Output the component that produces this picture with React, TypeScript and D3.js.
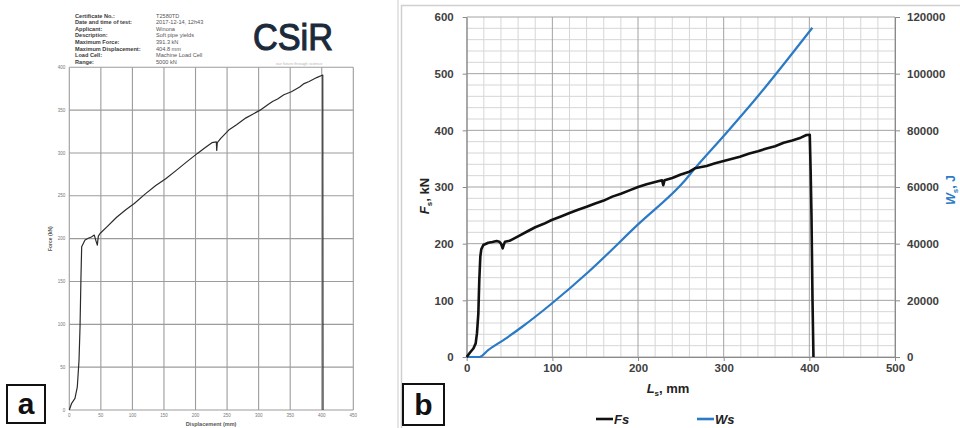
import { useEffect, useRef } from "react";
import * as d3 from "d3";

// panel (a): scanned test certificate, force vs displacement
const certDisp = [0, 3.7, 9, 12.7, 15.4, 17, 18.5, 19.6, 24.9, 30, 35, 39.6, 42, 44.4, 46, 48.7, 60, 75, 90, 103, 120, 137, 152.8, 170, 185, 203, 215, 226, 233, 233.6, 234.5, 240, 252.6, 265, 280, 290, 302.3, 315, 322, 330, 340, 351.9, 365, 372, 380, 392, 401.6, 401.8, 402];
const certForce = [0, 7.8, 13.6, 27, 58, 97, 155.6, 190.6, 198.4, 200.4, 202, 204.2, 198, 192.5, 203, 206, 214, 225, 234, 241, 252, 262, 270, 280, 289, 299.5, 306, 312, 313, 303, 312, 317, 326.7, 333, 341, 345, 350, 356.5, 360, 363, 368, 371.4, 377, 381, 383.5, 388, 391, 200, 0];
const certForceTicks = [0, 50, 100, 150, 200, 250, 300, 350, 400];
const certDispTicks = [0, 50, 100, 150, 200, 250, 300, 350, 400, 450];
const certLabels = ["Certificate No.:", "Date and time of test:", "Applicant:", "Description:", "Maximum Force:", "Maximum Displacement:", "Load Cell:", "Range:"];
const certValues = ["T2580TD", "2017-12-14, 12h43", "Winona", "Soft pipe yields", "391.3 kN", "404.8 mm", "Machine Load Cell", "5000 kN"];

// panel (b): force Fs and work Ws vs stroke Ls
const lsFs = [0, 3.9, 7.8, 10.5, 12, 13.6, 14.7, 15.9, 17, 19.4, 25.2, 30, 35, 38, 40, 42, 43.5, 44.7, 50, 60, 70, 80, 90, 99.2, 110, 120, 130, 140, 150, 160, 170, 180, 190, 200, 210, 220, 228, 229.5, 231, 240, 250, 260, 266.4, 280, 290, 300, 310, 318.9, 330, 340, 350, 360, 370, 380, 390, 396.7, 400.5, 401.5, 402.5, 403.7, 404.8];
const fsValues = [0, 8, 15, 24, 42, 77, 136, 177, 190, 197.6, 201.7, 203, 204.7, 203.5, 200, 191.8, 199, 203.5, 205, 213, 221, 229, 235, 241.7, 248, 254, 260, 265, 271, 276, 283, 288, 294, 300, 305, 309, 312, 303, 312, 316, 322, 327, 333, 337, 342, 346, 350, 353.5, 359, 363, 368, 372, 378, 382, 387, 391.8, 392, 330, 250, 100, 0];
const lsWs = [0, 15, 25, 45, 64, 99, 142, 200, 255, 266, 300, 336, 403.5];
const wsValues = [0, 0, 2400, 6400, 10500, 18800, 30000, 46800, 62400, 66400, 78000, 90600, 116200];
const fsTicks = [0, 100, 200, 300, 400, 500, 600];
const wsTicks = [0, 20000, 40000, 60000, 80000, 100000, 120000];
const lsTicks = [0, 100, 200, 300, 400, 500];

const FONT = "'Liberation Sans', Arial, sans-serif";
const BLUE = "#2a7ac6";

export default function App() {
  const ref = useRef<SVGSVGElement | null>(null);

  useEffect(() => {
    if (!ref.current) return;
    const svg = d3.select(ref.current);
    svg.selectAll("*").remove();
    svg.append("rect").attr("width", 960).attr("height", 428).attr("fill", "#fff");

    // ---------- panel (a) ----------
    const a = svg.append("g").attr("font-family", FONT);
    const xa = d3.scaleLinear().domain([0, 450]).range([69.3, 353.3]);
    const ya = d3.scaleLinear().domain([0, 400]).range([410, 67.3]);

    a.append("line").attr("x1", 398).attr("x2", 398).attr("y1", 0).attr("y2", 428)
      .attr("stroke", "#d4d4d4").attr("stroke-width", 1.2);

    // header block
    certLabels.forEach((t, i) => {
      const y = 17.5 + i * 6.65;
      a.append("text").attr("x", 75).attr("y", y).attr("font-size", 5.6)
        .attr("font-weight", "bold").attr("fill", "#3a3a3a").text(t);
      a.append("text").attr("x", 156).attr("y", y).attr("font-size", 5.6)
        .attr("fill", "#555").text(certValues[i]);
    });

    // logo
    a.append("text").attr("x", 253).attr("y", 50).attr("font-size", 37)
      .attr("textLength", 80).attr("lengthAdjust", "spacingAndGlyphs")
      .attr("fill", "#1b2a3b").attr("stroke", "#1b2a3b").attr("stroke-width", 1.1)
      .text("CSiR");
    a.append("text").attr("x", 276).attr("y", 65).attr("font-size", 4)
      .attr("fill", "#b5b5b5").text("our future through science");

    // grid
    a.selectAll(".gv").data(certDispTicks).join("line")
      .attr("x1", (d) => xa(d)).attr("x2", (d) => xa(d))
      .attr("y1", ya(0)).attr("y2", ya(400))
      .attr("stroke", "#9c9c9c").attr("stroke-width", 1.1);
    a.selectAll(".gh").data(certForceTicks).join("line")
      .attr("x1", xa(0)).attr("x2", xa(450))
      .attr("y1", (d) => ya(d)).attr("y2", (d) => ya(d))
      .attr("stroke", "#9c9c9c").attr("stroke-width", 1.1);

    a.selectAll(".ty").data(certForceTicks).join("text")
      .attr("x", xa(0) - 4).attr("y", (d) => ya(d)).attr("dy", "0.35em")
      .attr("text-anchor", "end").attr("font-size", 4.5).attr("fill", "#777")
      .text((d) => d);
    a.selectAll(".tx").data(certDispTicks).join("text")
      .attr("x", (d) => xa(d)).attr("y", ya(0) + 7)
      .attr("text-anchor", "middle").attr("font-size", 4.5).attr("fill", "#777")
      .text((d) => d);

    a.append("text").attr("transform", `translate(52,${ya(200)}) rotate(-90)`)
      .attr("text-anchor", "middle").attr("font-size", 5).attr("font-weight", "bold")
      .attr("fill", "#555").text("Force (kN)");
    a.append("text").attr("x", 211).attr("y", 425.5)
      .attr("text-anchor", "middle").attr("font-size", 5.5).attr("font-weight", "bold")
      .attr("fill", "#555").text("Displacement (mm)");

    const lineA = d3.line<number>()
      .x((_, i) => xa(certDisp[i]))
      .y((d) => ya(d));
    a.append("path").attr("d", lineA(certForce)).attr("fill", "none")
      .attr("stroke", "#2b2b2b").attr("stroke-width", 1.2).attr("stroke-linejoin", "round");

    // ---------- panel (b) ----------
    const b = svg.append("g").attr("font-family", FONT);
    b.append("rect").attr("x", 401.5).attr("y", 5.5).attr("width", 600).attr("height", 500)
      .attr("fill", "none").attr("stroke", "#cfcfcf").attr("stroke-width", 1.5);

    const x = d3.scaleLinear().domain([0, 500]).range([466.7, 895]);
    const yF = d3.scaleLinear().domain([0, 600]).range([357, 17]);
    const yW = d3.scaleLinear().domain([0, 120000]).range([357, 17]);

    const minorX = d3.range(0, 501, 20).filter((d) => d % 100 !== 0);
    const minorY = d3.range(0, 601, 20).filter((d) => d % 100 !== 0);
    b.selectAll(".mx").data(minorX).join("line")
      .attr("x1", (d) => x(d)).attr("x2", (d) => x(d)).attr("y1", yF(0)).attr("y2", yF(600))
      .attr("stroke", "#d6d6d6").attr("stroke-width", 1);
    b.selectAll(".my").data(minorY).join("line")
      .attr("x1", x(0)).attr("x2", x(500)).attr("y1", (d) => yF(d)).attr("y2", (d) => yF(d))
      .attr("stroke", "#d6d6d6").attr("stroke-width", 1);
    b.selectAll(".Mx").data(lsTicks).join("line")
      .attr("x1", (d) => x(d)).attr("x2", (d) => x(d)).attr("y1", yF(0)).attr("y2", yF(600))
      .attr("stroke", "#a3a3a3").attr("stroke-width", 1);
    b.selectAll(".My").data(fsTicks).join("line")
      .attr("x1", x(0)).attr("x2", x(500)).attr("y1", (d) => yF(d)).attr("y2", (d) => yF(d))
      .attr("stroke", "#a3a3a3").attr("stroke-width", 1);

    const styleAxis = (g: d3.Selection<SVGGElement, unknown, null, undefined>) => {
      g.select(".domain").attr("stroke", "#8a8a8a");
      g.selectAll(".tick line").attr("stroke", "#8a8a8a");
      g.selectAll(".tick text").attr("font-size", 11.5).attr("font-weight", "bold")
        .attr("fill", "#404040").attr("font-family", FONT);
    };

    b.append("g").attr("transform", `translate(${x(0)},0)`)
      .call(d3.axisLeft(yF).tickValues(fsTicks).tickSize(4).tickSizeOuter(0).tickPadding(9))
      .call(styleAxis);
    b.append("g").attr("transform", `translate(${x(500)},0)`)
      .call(d3.axisRight(yW).tickValues(wsTicks).tickSize(5).tickSizeOuter(0).tickPadding(7)
        .tickFormat(d3.format("d")))
      .call(styleAxis);
    b.append("g").attr("transform", `translate(0,${yF(0)})`)
      .call(d3.axisBottom(x).tickValues(lsTicks).tickSize(4).tickSizeOuter(0).tickPadding(3))
      .call(styleAxis);

    // series
    const lineF = d3.line<number>().x((_, i) => x(lsFs[i])).y((d) => yF(d));
    const lineW = d3.line<number>().x((_, i) => x(lsWs[i])).y((d) => yW(d))
      .curve(d3.curveMonotoneX);
    b.append("path").attr("d", lineW(wsValues)).attr("fill", "none")
      .attr("stroke", BLUE).attr("stroke-width", 2.2);
    b.append("path").attr("d", lineF(fsValues)).attr("fill", "none")
      .attr("stroke", "#111").attr("stroke-width", 2.6).attr("stroke-linejoin", "round");

    // axis titles
    const fT = b.append("text").attr("transform", "translate(429,196) rotate(-90)")
      .attr("text-anchor", "middle").attr("font-size", 13).attr("font-weight", "bold").attr("fill", "#222");
    fT.append("tspan").attr("font-style", "italic").text("F");
    fT.append("tspan").attr("font-size", 8).attr("dy", 3).text("s");
    fT.append("tspan").attr("dy", -3).text(", kN");

    const wT = b.append("text").attr("transform", "translate(955,190) rotate(-90)")
      .attr("text-anchor", "middle").attr("font-size", 12.5).attr("font-weight", "bold").attr("fill", BLUE);
    wT.append("tspan").attr("font-style", "italic").text("W");
    wT.append("tspan").attr("font-size", 8).attr("dy", 2.5).text("s");
    wT.append("tspan").attr("dy", -2.5).text(", J");

    const lT = b.append("text").attr("x", 668).attr("y", 393)
      .attr("text-anchor", "middle").attr("font-size", 13).attr("font-weight", "bold").attr("fill", "#222");
    lT.append("tspan").attr("font-style", "italic").text("L");
    lT.append("tspan").attr("font-size", 8).attr("dy", 3).text("s");
    lT.append("tspan").attr("dy", -3).text(", mm");

    // legend
    const legend = [
      { name: "Fs", color: "#111", x0: 596 },
      { name: "Ws", color: BLUE, x0: 697 },
    ];
    legend.forEach((l) => {
      b.append("line").attr("x1", l.x0).attr("x2", l.x0 + 17).attr("y1", 419).attr("y2", 419)
        .attr("stroke", l.color).attr("stroke-width", 2.6);
      b.append("text").attr("x", l.x0 + 18).attr("y", 423.5).attr("font-size", 13)
        .attr("font-weight", "bold").attr("font-style", "italic").attr("fill", "#222").text(l.name);
    });

    // panel letters
    [
      { t: "a", x0: 7, y0: 385, w: 38 },
      { t: "b", x0: 403, y0: 384, w: 41 },
    ].forEach((p) => {
      svg.append("rect").attr("x", p.x0).attr("y", p.y0).attr("width", p.w).attr("height", p.w)
        .attr("fill", "#fff").attr("stroke", "#111").attr("stroke-width", 2);
      svg.append("text").attr("x", p.x0 + p.w / 2).attr("y", p.y0 + p.w / 2 + 10)
        .attr("text-anchor", "middle").attr("font-family", FONT).attr("font-size", 30)
        .attr("font-weight", "bold").attr("fill", "#111").text(p.t);
    });
  }, []);

  return (
    <svg ref={ref} width={960} height={428}
      style={{ position: "absolute", left: 0, top: 0, display: "block" }} />
  );
}
